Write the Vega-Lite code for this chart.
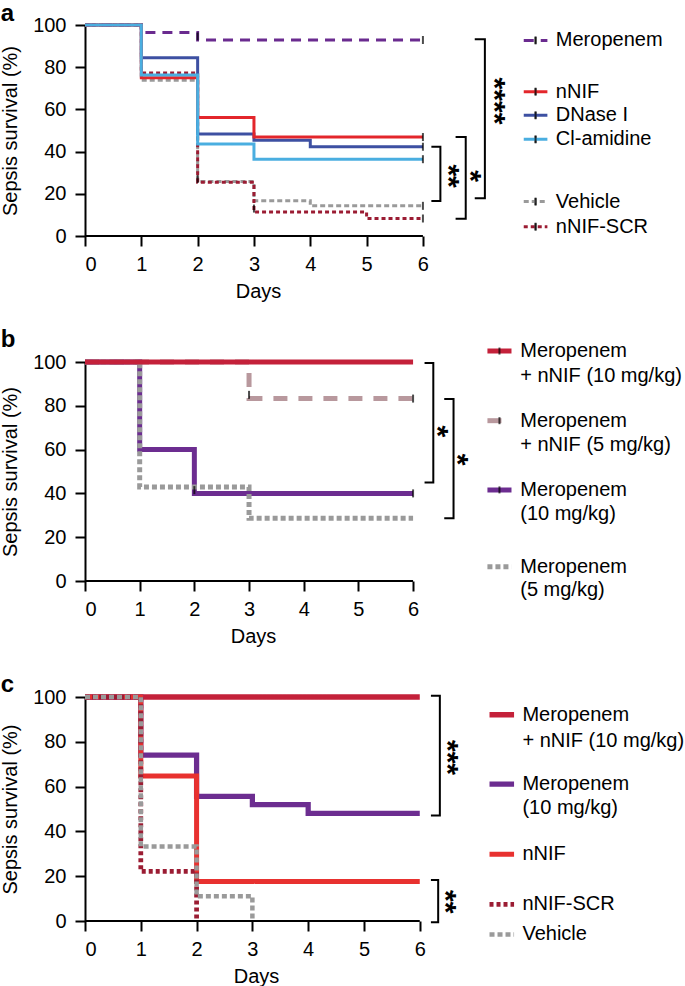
{
  "$schema": "https://vega.github.io/schema/vega-lite/v6.json",
  "background": "white",
  "padding": {"left": 0, "top": 2, "right": 0, "bottom": 0},
  "config": {
    "view": {"stroke": null},
    "font": "Liberation Sans",
    "axis": {"domainColor": "black", "domainWidth": 2, "tickColor": "black", "tickWidth": 2, "tickSize": 10, "labelFontSize": 20, "labelColor": "black", "titleFontSize": 20, "titleFontWeight": "normal", "titleColor": "black", "grid": false},
    "title": {"fontSize": 24, "fontWeight": "bold", "anchor": "start", "frame": "bounds", "color": "black", "baseline": "alphabetic", "offset": -11}
  },
  "datasets": {
    "a_curves": [
      {"series": "Vehicle", "day": 0, "surv": 100}, {"series": "Vehicle", "day": 1, "surv": 73.8}, {"series": "Vehicle", "day": 2, "surv": 25.8}, {"series": "Vehicle", "day": 3, "surv": 16.7}, {"series": "Vehicle", "day": 4, "surv": 14.3}, {"series": "Vehicle", "day": 6, "surv": 14.3},
      {"series": "nNIF-SCR", "day": 0, "surv": 100}, {"series": "nNIF-SCR", "day": 1, "surv": 77.3}, {"series": "nNIF-SCR", "day": 2, "surv": 25.5}, {"series": "nNIF-SCR", "day": 3, "surv": 11.4}, {"series": "nNIF-SCR", "day": 5, "surv": 8.3}, {"series": "nNIF-SCR", "day": 6, "surv": 8.3},
      {"series": "Meropenem", "day": 0, "surv": 100}, {"series": "Meropenem", "day": 1, "surv": 96.4}, {"series": "Meropenem", "day": 2, "surv": 92.9}, {"series": "Meropenem", "day": 6, "surv": 92.9},
      {"series": "DNase I", "day": 0, "surv": 100}, {"series": "DNase I", "day": 1, "surv": 84.5}, {"series": "DNase I", "day": 2, "surv": 48.3}, {"series": "DNase I", "day": 3, "surv": 45.4}, {"series": "DNase I", "day": 4, "surv": 42.3}, {"series": "DNase I", "day": 6, "surv": 42.3},
      {"series": "nNIF", "day": 0, "surv": 100}, {"series": "nNIF", "day": 1, "surv": 75.0}, {"series": "nNIF", "day": 2, "surv": 56.2}, {"series": "nNIF", "day": 3, "surv": 46.9}, {"series": "nNIF", "day": 6, "surv": 46.9},
      {"series": "Cl-amidine", "day": 0, "surv": 100}, {"series": "Cl-amidine", "day": 1, "surv": 76.3}, {"series": "Cl-amidine", "day": 2, "surv": 43.6}, {"series": "Cl-amidine", "day": 3, "surv": 36.4}, {"series": "Cl-amidine", "day": 6, "surv": 36.4}
    ],
    "a_ticks": [
      {"day": 6, "surv": 92.9}, {"day": 6, "surv": 46.9}, {"day": 6, "surv": 42.3}, {"day": 6, "surv": 36.4}, {"day": 6, "surv": 14.3}, {"day": 6, "surv": 8.3},
      {"day": 2, "surv": 94.6}, {"day": 2, "surv": 27}, {"day": 3, "surv": 13},
      {"day": 8.0, "surv": 92.7}, {"day": 8.0, "surv": 68.4}, {"day": 8.0, "surv": 57.2}, {"day": 8.0, "surv": 45.8}, {"day": 8.0, "surv": 16.3}, {"day": 8.0, "surv": 4.4}
    ],
    "a_legend": [
      {"series": "Meropenem", "day": 7.79, "surv": 92.7}, {"series": "Meropenem", "day": 8.21, "surv": 92.7},
      {"series": "nNIF", "day": 7.79, "surv": 68.4}, {"series": "nNIF", "day": 8.21, "surv": 68.4},
      {"series": "DNase I", "day": 7.79, "surv": 57.2}, {"series": "DNase I", "day": 8.21, "surv": 57.2},
      {"series": "Cl-amidine", "day": 7.79, "surv": 45.8}, {"series": "Cl-amidine", "day": 8.21, "surv": 45.8},
      {"series": "Vehicle", "day": 7.79, "surv": 16.3}, {"series": "Vehicle", "day": 8.21, "surv": 16.3},
      {"series": "nNIF-SCR", "day": 7.79, "surv": 4.4}, {"series": "nNIF-SCR", "day": 8.21, "surv": 4.4}
    ],
    "a_labels": [
      {"text": "Meropenem", "day": 8.36, "surv": 92.7},
      {"text": "nNIF", "day": 8.36, "surv": 68.4},
      {"text": "DNase I", "day": 8.36, "surv": 57.2},
      {"text": "Cl-amidine", "day": 8.36, "surv": 45.8},
      {"text": "Vehicle", "day": 8.36, "surv": 16.3},
      {"text": "nNIF-SCR", "day": 8.36, "surv": 4.4}
    ],
    "a_brackets": [
      {"id": "b1", "k": 0, "day": 6.15, "surv": 42.3}, {"id": "b1", "k": 1, "day": 6.31, "surv": 42.3}, {"id": "b1", "k": 2, "day": 6.31, "surv": 16.6}, {"id": "b1", "k": 3, "day": 6.15, "surv": 16.6},
      {"id": "b2", "k": 0, "day": 6.58, "surv": 46.9}, {"id": "b2", "k": 1, "day": 6.76, "surv": 46.9}, {"id": "b2", "k": 2, "day": 6.76, "surv": 8.2}, {"id": "b2", "k": 3, "day": 6.58, "surv": 8.2},
      {"id": "b3", "k": 0, "day": 6.92, "surv": 93.2}, {"id": "b3", "k": 1, "day": 7.10, "surv": 93.2}, {"id": "b3", "k": 2, "day": 7.10, "surv": 17.9}, {"id": "b3", "k": 3, "day": 6.92, "surv": 17.9}
    ],
    "a_stars": [
      {"text": "**", "day": 6.44, "surv": 28.4},
      {"text": "*", "day": 6.83, "surv": 28.4},
      {"text": "****", "day": 7.26, "surv": 64}
    ],
    "b_curves": [
      {"series": "Meropenem + nNIF (5 mg/kg)", "day": 0, "surv": 100}, {"series": "Meropenem + nNIF (5 mg/kg)", "day": 3, "surv": 83.3}, {"series": "Meropenem + nNIF (5 mg/kg)", "day": 6, "surv": 83.3},
      {"series": "Meropenem (10 mg/kg)", "day": 0, "surv": 100}, {"series": "Meropenem (10 mg/kg)", "day": 1, "surv": 60}, {"series": "Meropenem (10 mg/kg)", "day": 2, "surv": 40}, {"series": "Meropenem (10 mg/kg)", "day": 6, "surv": 40},
      {"series": "Meropenem (5 mg/kg)", "day": 0, "surv": 100}, {"series": "Meropenem (5 mg/kg)", "day": 1, "surv": 42.9}, {"series": "Meropenem (5 mg/kg)", "day": 3, "surv": 28.6}, {"series": "Meropenem (5 mg/kg)", "day": 6, "surv": 28.6},
      {"series": "Meropenem + nNIF (10 mg/kg)", "day": 0, "surv": 100}, {"series": "Meropenem + nNIF (10 mg/kg)", "day": 6, "surv": 100}
    ],
    "b_ticks": [
      {"day": 6, "surv": 83.3}, {"day": 6, "surv": 40}, {"day": 3, "surv": 85}, {"day": 2, "surv": 41.5},
      {"day": 7.58, "surv": 105.0}, {"day": 7.58, "surv": 73.2}, {"day": 7.58, "surv": 41.6}
    ],
    "b_legend": [
      {"series": "Meropenem + nNIF (10 mg/kg)", "day": 7.36, "surv": 105.0}, {"series": "Meropenem + nNIF (10 mg/kg)", "day": 7.80, "surv": 105.0},
      {"series": "Meropenem + nNIF (5 mg/kg)", "day": 7.36, "surv": 73.2}, {"series": "Meropenem + nNIF (5 mg/kg)", "day": 7.80, "surv": 73.2},
      {"series": "Meropenem (10 mg/kg)", "day": 7.36, "surv": 41.6}, {"series": "Meropenem (10 mg/kg)", "day": 7.80, "surv": 41.6},
      {"series": "Meropenem (5 mg/kg)", "day": 7.36, "surv": 6.5}, {"series": "Meropenem (5 mg/kg)", "day": 7.80, "surv": 6.5}
    ],
    "b_labels": [
      {"text": "Meropenem", "day": 7.96, "surv": 105.0},
      {"text": "+ nNIF (10 mg/kg)", "day": 7.96, "surv": 93.6},
      {"text": "Meropenem", "day": 7.96, "surv": 73.2},
      {"text": "+ nNIF (5 mg/kg)", "day": 7.96, "surv": 61.9},
      {"text": "Meropenem", "day": 7.96, "surv": 41.6},
      {"text": "(10 mg/kg)", "day": 7.96, "surv": 30.5},
      {"text": "Meropenem", "day": 7.96, "surv": 6.5},
      {"text": "(5 mg/kg)", "day": 7.96, "surv": -4.1}
    ],
    "b_brackets": [
      {"id": "b1", "k": 0, "day": 6.21, "surv": 99.5}, {"id": "b1", "k": 1, "day": 6.37, "surv": 99.5}, {"id": "b1", "k": 2, "day": 6.37, "surv": 45.0}, {"id": "b1", "k": 3, "day": 6.21, "surv": 45.0},
      {"id": "b2", "k": 0, "day": 6.57, "surv": 83.1}, {"id": "b2", "k": 1, "day": 6.74, "surv": 83.1}, {"id": "b2", "k": 2, "day": 6.74, "surv": 28.6}, {"id": "b2", "k": 3, "day": 6.57, "surv": 28.6}
    ],
    "b_stars": [
      {"text": "*", "day": 6.43, "surv": 68.3},
      {"text": "*", "day": 6.80, "surv": 55.4}
    ],
    "c_curves": [
      {"series": "Meropenem + nNIF (10 mg/kg)", "day": 0, "surv": 100}, {"series": "Meropenem + nNIF (10 mg/kg)", "day": 6, "surv": 100},
      {"series": "Meropenem (10 mg/kg)", "day": 0, "surv": 100}, {"series": "Meropenem (10 mg/kg)", "day": 1, "surv": 74.1}, {"series": "Meropenem (10 mg/kg)", "day": 2, "surv": 55.6}, {"series": "Meropenem (10 mg/kg)", "day": 3, "surv": 51.9}, {"series": "Meropenem (10 mg/kg)", "day": 4, "surv": 48.1}, {"series": "Meropenem (10 mg/kg)", "day": 6, "surv": 48.1},
      {"series": "nNIF", "day": 0, "surv": 100}, {"series": "nNIF", "day": 1, "surv": 64.7}, {"series": "nNIF", "day": 2, "surv": 17.6}, {"series": "nNIF", "day": 6, "surv": 17.6},
      {"series": "nNIF-SCR", "day": 0, "surv": 100}, {"series": "nNIF-SCR", "day": 1, "surv": 22.2}, {"series": "nNIF-SCR", "day": 2, "surv": 0},
      {"series": "Vehicle", "day": 0, "surv": 100}, {"series": "Vehicle", "day": 1, "surv": 33.3}, {"series": "Vehicle", "day": 2, "surv": 11.1}, {"series": "Vehicle", "day": 3, "surv": 0}
    ],
    "c_legend": [
      {"series": "Meropenem + nNIF (10 mg/kg)", "day": 7.25, "surv": 92.1}, {"series": "Meropenem + nNIF (10 mg/kg)", "day": 7.69, "surv": 92.1},
      {"series": "Meropenem (10 mg/kg)", "day": 7.25, "surv": 61.1}, {"series": "Meropenem (10 mg/kg)", "day": 7.69, "surv": 61.1},
      {"series": "nNIF", "day": 7.25, "surv": 29.8}, {"series": "nNIF", "day": 7.69, "surv": 29.8},
      {"series": "nNIF-SCR", "day": 7.25, "surv": 7.4}, {"series": "nNIF-SCR", "day": 7.69, "surv": 7.4},
      {"series": "Vehicle", "day": 7.25, "surv": -6.0}, {"series": "Vehicle", "day": 7.69, "surv": -6.0}
    ],
    "c_labels": [
      {"text": "Meropenem", "day": 7.84, "surv": 92.1},
      {"text": "+ nNIF (10 mg/kg)", "day": 7.84, "surv": 80.5},
      {"text": "Meropenem", "day": 7.84, "surv": 61.1},
      {"text": "(10 mg/kg)", "day": 7.84, "surv": 50.4},
      {"text": "nNIF", "day": 7.84, "surv": 29.8},
      {"text": "nNIF-SCR", "day": 7.84, "surv": 7.4},
      {"text": "Vehicle", "day": 7.84, "surv": -6.0}
    ],
    "c_brackets": [
      {"id": "b1", "k": 0, "day": 6.20, "surv": 100.6}, {"id": "b1", "k": 1, "day": 6.36, "surv": 100.6}, {"id": "b1", "k": 2, "day": 6.36, "surv": 47.1}, {"id": "b1", "k": 3, "day": 6.20, "surv": 47.1},
      {"id": "b2", "k": 0, "day": 6.20, "surv": 18.3}, {"id": "b2", "k": 1, "day": 6.33, "surv": 18.3}, {"id": "b2", "k": 2, "day": 6.33, "surv": -0.6}, {"id": "b2", "k": 3, "day": 6.20, "surv": -0.6}
    ],
    "c_stars": [
      {"text": "***", "day": 6.48, "surv": 73.0},
      {"text": "**", "day": 6.45, "surv": 8.6}
    ]
  },
  "spacing": 27,
  "resolve": {"scale": {"x": "independent", "y": "independent", "color": "independent", "strokeDash": "independent", "strokeWidth": "independent"}},
  "vconcat": [
    {
      "width": 597,
      "height": 211,
      "title": {"text": "a"},
      "encoding": {
        "x": {"field": "day", "type": "quantitative", "scale": {"domain": [0, 10.6], "nice": false, "zero": false}, "axis": {"values": [0, 1, 2, 3, 4, 5, 6], "domain": false, "title": "Days", "labelPadding": 8, "titlePadding": 7, "titleX": 173}},
        "y": {"field": "surv", "type": "quantitative", "scale": {"domain": [0, 100], "nice": false}, "axis": {"values": [0, 20, 40, 60, 80, 100], "title": "Sepsis survival (%)", "labelPadding": 9, "titlePadding": 12}}
      },
      "layer": [
        {"data": {"values": [{"day": 0, "surv": 0}, {"day": 6, "surv": 0}]}, "mark": {"type": "line", "color": "black", "strokeWidth": 2}},
        {
          "data": {"name": "a_curves"},
          "mark": {"type": "line", "interpolate": "step-after"},
          "encoding": {
            "color": {"field": "series", "type": "nominal", "legend": null, "scale": {"domain": ["Meropenem", "nNIF", "DNase I", "Cl-amidine", "Vehicle", "nNIF-SCR"], "range": ["#6a2b8f", "#e3262b", "#3d50a2", "#4aaee0", "#9a9a9a", "#9b1c33"]}},
            "strokeDash": {"field": "series", "type": "nominal", "legend": null, "scale": {"domain": ["Meropenem", "nNIF", "DNase I", "Cl-amidine", "Vehicle", "nNIF-SCR"], "range": [[10, 7], [1, 0], [1, 0], [1, 0], [5, 3], [4, 3]]}},
            "strokeWidth": {"field": "series", "type": "ordinal", "legend": null, "scale": {"domain": ["Meropenem", "nNIF", "DNase I", "Cl-amidine", "Vehicle", "nNIF-SCR"], "range": [3, 3, 3, 3, 2.6, 2]}}
          }
        },
        {"data": {"name": "a_ticks"}, "mark": {"type": "tick", "orient": "vertical", "color": "black", "size": 8, "thickness": 2}},
        {
          "data": {"name": "a_legend"},
          "mark": {"type": "line"},
          "encoding": {
            "color": {"field": "series", "type": "nominal", "legend": null},
            "strokeDash": {"field": "series", "type": "nominal", "legend": null},
            "strokeWidth": {"field": "series", "type": "ordinal", "legend": null}
          }
        },
        {"data": {"name": "a_ticks"}, "transform": [{"filter": "datum.day > 7"}], "mark": {"type": "tick", "orient": "vertical", "color": "black", "size": 7, "thickness": 2}},
        {"data": {"name": "a_labels"}, "mark": {"type": "text", "align": "left", "baseline": "middle", "fontSize": 20, "color": "black"}, "encoding": {"text": {"field": "text"}}},
        {"data": {"name": "a_brackets"}, "mark": {"type": "line", "color": "black", "strokeWidth": 2}, "encoding": {"detail": {"field": "id"}, "order": {"field": "k", "type": "quantitative"}}},
        {"data": {"name": "a_stars"}, "mark": {"type": "text", "angle": 90, "fontSize": 30, "fontWeight": "bold", "align": "center", "baseline": "middle", "color": "black"}, "encoding": {"text": {"field": "text"}}}
      ]
    },
    {
      "spacing": 27,
      "resolve": {"scale": {"x": "independent", "y": "independent", "color": "independent", "strokeDash": "independent", "strokeWidth": "independent"}},
      "vconcat": [
        {
          "width": 596,
          "height": 219,
          "title": {"text": "b"},
          "encoding": {
            "x": {"field": "day", "type": "quantitative", "scale": {"domain": [0, 10.9], "nice": false, "zero": false}, "axis": {"values": [0, 1, 2, 3, 4, 5, 6], "domain": false, "title": "Days", "labelPadding": 8, "titlePadding": 7, "titleX": 168}},
            "y": {"field": "surv", "type": "quantitative", "scale": {"domain": [0, 100], "nice": false}, "axis": {"values": [0, 20, 40, 60, 80, 100], "title": "Sepsis survival (%)", "labelPadding": 9, "titlePadding": 12}}
          },
          "layer": [
            {"data": {"values": [{"day": 0, "surv": 0}, {"day": 6, "surv": 0}]}, "mark": {"type": "line", "color": "black", "strokeWidth": 2}},
            {
              "data": {"name": "b_curves"},
              "mark": {"type": "line", "interpolate": "step-after"},
              "encoding": {
                "color": {"field": "series", "type": "nominal", "legend": null, "scale": {"domain": ["Meropenem + nNIF (10 mg/kg)", "Meropenem + nNIF (5 mg/kg)", "Meropenem (10 mg/kg)", "Meropenem (5 mg/kg)"], "range": ["#c4213a", "#b8989d", "#6c2d90", "#9a9a9a"]}},
                "strokeDash": {"field": "series", "type": "nominal", "legend": null, "scale": {"domain": ["Meropenem + nNIF (10 mg/kg)", "Meropenem + nNIF (5 mg/kg)", "Meropenem (10 mg/kg)", "Meropenem (5 mg/kg)"], "range": [[1, 0], [14, 11], [1, 0], [5, 3]]}},
                "strokeWidth": {"field": "series", "type": "ordinal", "legend": null, "scale": {"domain": ["Meropenem + nNIF (10 mg/kg)", "Meropenem + nNIF (5 mg/kg)", "Meropenem (10 mg/kg)", "Meropenem (5 mg/kg)"], "range": [5, 5, 4, 2.6]}}
              }
            },
            {"data": {"name": "b_ticks"}, "transform": [{"filter": "datum.day < 7"}], "mark": {"type": "tick", "orient": "vertical", "color": "black", "size": 8, "thickness": 2}},
            {
              "data": {"name": "b_legend"},
              "mark": {"type": "line"},
              "encoding": {
                "color": {"field": "series", "type": "nominal", "legend": null},
                "strokeDash": {"field": "series", "type": "nominal", "legend": null},
                "strokeWidth": {"field": "series", "type": "ordinal", "legend": null}
              }
            },
            {"data": {"name": "b_ticks"}, "transform": [{"filter": "datum.day > 7"}], "mark": {"type": "tick", "orient": "vertical", "color": "black", "size": 7, "thickness": 2}},
            {"data": {"name": "b_labels"}, "mark": {"type": "text", "align": "left", "baseline": "middle", "fontSize": 20, "color": "black"}, "encoding": {"text": {"field": "text"}}},
            {"data": {"name": "b_brackets"}, "mark": {"type": "line", "color": "black", "strokeWidth": 2}, "encoding": {"detail": {"field": "id"}, "order": {"field": "k", "type": "quantitative"}}},
            {"data": {"name": "b_stars"}, "mark": {"type": "text", "angle": 90, "fontSize": 30, "fontWeight": "bold", "align": "center", "baseline": "middle", "color": "black"}, "encoding": {"text": {"field": "text"}}}
          ]
        },
        {
          "width": 597,
          "height": 224,
          "title": {"text": "c"},
          "encoding": {
            "x": {"field": "day", "type": "quantitative", "scale": {"domain": [0, 10.7], "nice": false, "zero": false}, "axis": {"values": [0, 1, 2, 3, 4, 5, 6], "domain": false, "title": "Days", "labelPadding": 8, "titlePadding": 7, "titleX": 171}},
            "y": {"field": "surv", "type": "quantitative", "scale": {"domain": [0, 100], "nice": false}, "axis": {"values": [0, 20, 40, 60, 80, 100], "title": "Sepsis survival (%)", "labelPadding": 9, "titlePadding": 12}}
          },
          "layer": [
            {"data": {"values": [{"day": 0, "surv": 0}, {"day": 6, "surv": 0}]}, "mark": {"type": "line", "color": "black", "strokeWidth": 2}},
            {
              "data": {"name": "c_curves"},
              "mark": {"type": "line", "interpolate": "step-after"},
              "encoding": {
                "color": {"field": "series", "type": "nominal", "legend": null, "scale": {"domain": ["Meropenem + nNIF (10 mg/kg)", "Meropenem (10 mg/kg)", "nNIF", "nNIF-SCR", "Vehicle"], "range": ["#c4213a", "#6c2d90", "#e8312f", "#9b1c33", "#9a9a9a"]}},
                "strokeDash": {"field": "series", "type": "nominal", "legend": null, "scale": {"domain": ["Meropenem + nNIF (10 mg/kg)", "Meropenem (10 mg/kg)", "nNIF", "nNIF-SCR", "Vehicle"], "range": [[1, 0], [1, 0], [1, 0], [4, 3], [5, 3]]}},
                "strokeWidth": {"field": "series", "type": "ordinal", "legend": null, "scale": {"domain": ["Meropenem + nNIF (10 mg/kg)", "Meropenem (10 mg/kg)", "nNIF", "nNIF-SCR", "Vehicle"], "range": [5.5, 4.5, 3, 2, 2.6]}}
              }
            },
            {
              "data": {"name": "c_legend"},
              "mark": {"type": "line"},
              "encoding": {
                "color": {"field": "series", "type": "nominal", "legend": null},
                "strokeDash": {"field": "series", "type": "nominal", "legend": null},
                "strokeWidth": {"field": "series", "type": "ordinal", "legend": null}
              }
            },
            {"data": {"name": "c_labels"}, "mark": {"type": "text", "align": "left", "baseline": "middle", "fontSize": 20, "color": "black"}, "encoding": {"text": {"field": "text"}}},
            {"data": {"name": "c_brackets"}, "mark": {"type": "line", "color": "black", "strokeWidth": 2}, "encoding": {"detail": {"field": "id"}, "order": {"field": "k", "type": "quantitative"}}},
            {"data": {"name": "c_stars"}, "mark": {"type": "text", "angle": 90, "fontSize": 30, "fontWeight": "bold", "align": "center", "baseline": "middle", "color": "black"}, "encoding": {"text": {"field": "text"}}}
          ]
        }
      ]
    }
  ]
}
